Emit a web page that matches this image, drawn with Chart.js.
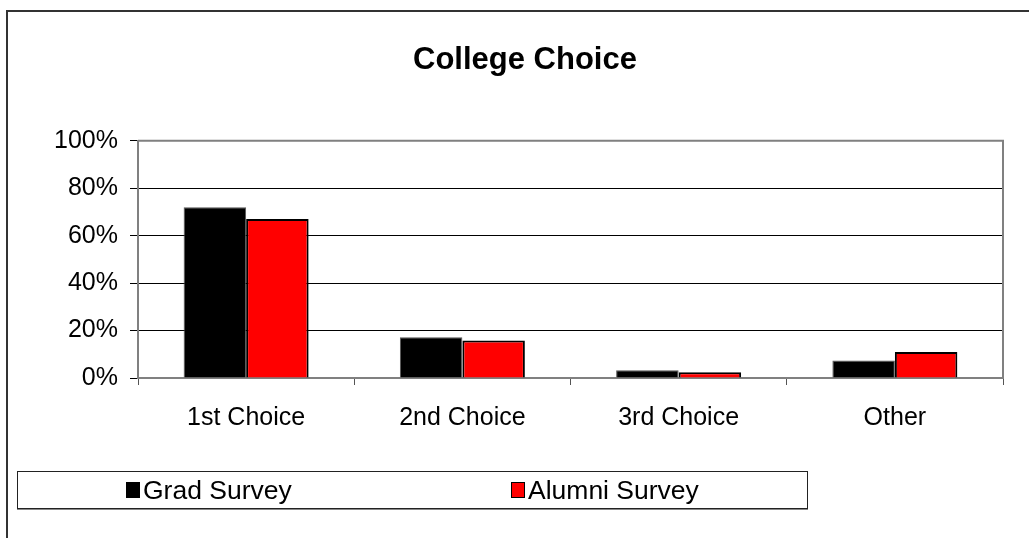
<!DOCTYPE html>
<html>
<head>
<meta charset="utf-8">
<script src="https://cdn.jsdelivr.net/npm/chart.js@4.4.0/dist/chart.umd.min.js"></script>
<style>
  html, body { margin:0; padding:0; background:#fff; overflow:hidden; }
  #wrap { position:relative; width:1029px; height:538px; background:#fff; }
  #frame { position:absolute; left:6px; top:10px; width:1100px; height:600px;
           border-left:2px solid #333; border-top:2px solid #333; pointer-events:none; }
  #legend { position:absolute; left:17px; top:471px; width:789px; height:36px;
            border:1px solid #222; box-shadow:0 1px 0 #888; background:#fff;
            font-family:"Liberation Sans", Arial, sans-serif; font-size:26.5px; color:#000; }
  .item { position:absolute; top:0; height:36px; display:flex; align-items:center; }
  .sw { width:14px; height:16px; box-sizing:border-box; margin-right:3px; }
</style>
</head>
<body>
<div id="wrap">
  <canvas id="c" width="1029" height="538"></canvas>
  <div id="frame"></div>
  <div id="legend"></div>
</div>
<script>
const categories = ['1st Choice', '2nd Choice', '3rd Choice', 'Other'];
const seriesLabels = ['Grad Survey', 'Alumni Survey'];
const gradSurvey = [72, 17.2, 3.3, 7.4];
const alumniSurvey = [67, 15.8, 2.4, 11];
const seriesColors = ['#000000', '#ff0000'];
const yMax = 100, yStep = 20;
const titleText = 'College Choice';

const FONT = '"Liberation Sans", Arial, sans-serif';

const plotFrame = {
  id: 'plotFrame',
  afterDatasetsDraw(chart) {
    const a = chart.chartArea, ctx = chart.ctx;
    ctx.save();
    ctx.strokeStyle = '#808080';
    ctx.lineWidth = 2;
    ctx.beginPath();
    ctx.moveTo(a.left, a.top);
    ctx.lineTo(a.right, a.top);
    ctx.lineTo(a.right, a.bottom);
    ctx.stroke();
    ctx.restore();
  }
};

const chartTitle = {
  id: 'chartTitle',
  afterDraw(chart, args, opts) {
    const ctx = chart.ctx;
    ctx.save();
    ctx.fillStyle = '#000';
    ctx.font = 'bold 31px ' + FONT;
    ctx.textAlign = 'center';
    ctx.textBaseline = 'middle';
    ctx.fillText(opts.text, opts.x, opts.y);
    ctx.restore();
  }
};

const chart = new Chart(document.getElementById('c'), {
  type: 'bar',
  data: {
    labels: categories,
    datasets: [
      { label: seriesLabels[0], data: gradSurvey, backgroundColor: seriesColors[0],
        borderColor: '#555', borderWidth: 1 },
      { label: seriesLabels[1], data: alumniSurvey, backgroundColor: seriesColors[1],
        borderColor: '#000', borderWidth: 2 }
    ]
  },
  options: {
    responsive: false,
    devicePixelRatio: 1,
    animation: false,
    layout: { padding: { left: 0, right: 26, top: 140.7, bottom: 100 } },
    datasets: { bar: { categoryPercentage: 0.578, barPercentage: 1.0 } },
    plugins: {
      legend: { display: false },
      tooltip: { enabled: false },
      title: { display: false },
      chartTitle: { text: titleText, x: 525, y: 60 }
    },
    scales: {
      x: {
        afterFit(s) { s.height = 60; },
        grid: { offset: true, drawOnChartArea: false, color: '#555', tickLength: 7, lineWidth: 1 },
        border: { color: '#808080', width: 2 },
        ticks: { color: '#000', font: { family: FONT, size: 25 }, padding: 18 }
      },
      y: {
        min: 0, max: yMax,
        afterFit(s) { s.width = 138; },
        grid: { color: '#000', lineWidth: 1, tickLength: 8, drawTicks: true },
        border: { color: '#808080', width: 2 },
        ticks: { stepSize: yStep, color: '#000', font: { family: FONT, size: 25 }, padding: 12,
                 callback: v => v + '%' }
      }
    }
  },
  plugins: [plotFrame, chartTitle]
});

// legend built from datasets
const leg = document.getElementById('legend');
const positions = [108, 493];
chart.data.datasets.forEach((ds, i) => {
  const it = document.createElement('div');
  it.className = 'item';
  it.style.left = positions[i] + 'px';
  const sw = document.createElement('span');
  sw.className = 'sw';
  sw.style.background = ds.backgroundColor;
  sw.style.border = '1px solid #000';
  const t = document.createElement('span');
  t.textContent = ds.label;
  it.appendChild(sw); it.appendChild(t);
  leg.appendChild(it);
});
</script>
</body>
</html>
